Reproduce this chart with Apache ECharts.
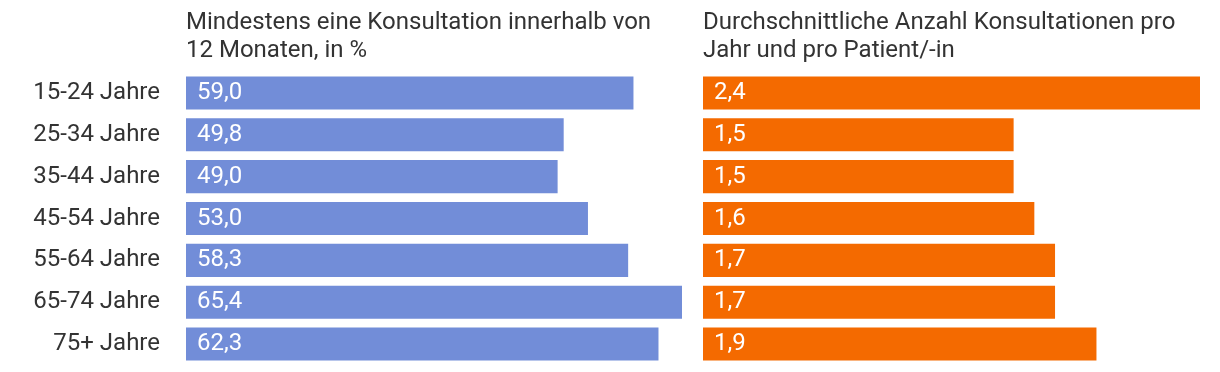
<!DOCTYPE html>
<html><head><meta charset="utf-8">
<script src="https://cdn.jsdelivr.net/npm/echarts@6/dist/echarts.min.js"></script>
<style>html,body{margin:0;padding:0;background:#fff}#c{width:1220px;height:372px}</style>
</head><body><div id="c"></div>
<script>
const categories = ['15-24 Jahre','25-34 Jahre','35-44 Jahre','45-54 Jahre','55-64 Jahre','65-74 Jahre','75+ Jahre'];
const shareValues = [59.0, 49.8, 49.0, 53.0, 58.3, 65.4, 62.3];
const avgValues = [2.4, 1.5, 1.5, 1.6, 1.7, 1.7, 1.9];
const titleLeft = 'Mindestens eine Konsultation innerhalb von\n12 Monaten, in %';
const titleRight = 'Durchschnittliche Anzahl Konsultationen pro\nJahr und pro Patient/-in';

const font = 'Roboto';
const fmt = p => p.value.toFixed(1).replace('.', ',');
const chart = echarts.init(document.getElementById('c'), null, {renderer: 'canvas'});
const labelCfg = {show: true, position: 'insideLeft', distance: 11, color: '#fff', fontSize: 24, fontFamily: font, formatter: fmt};
chart.setOption({
  animation: false,
  title: [
    {text: titleLeft, left: 181, top: 4, textStyle: {fontFamily: font, fontSize: 24, fontWeight: 'normal', color: '#333', lineHeight: 28}},
    {text: titleRight, left: 698, top: 4, textStyle: {fontFamily: font, fontSize: 24, fontWeight: 'normal', color: '#333', lineHeight: 28}}
  ],
  grid: [
    {left: 186, width: 496, top: 72, bottom: 7},
    {left: 703, width: 497, top: 72, bottom: 7}
  ],
  xAxis: [
    {type: 'value', gridIndex: 0, min: 0, max: 'dataMax', show: false},
    {type: 'value', gridIndex: 1, min: 0, max: 'dataMax', show: false}
  ],
  yAxis: [
    {type: 'category', gridIndex: 0, data: categories, inverse: true,
     axisLine: {show: false}, axisTick: {show: false},
     axisLabel: {fontFamily: font, fontSize: 24, color: '#333', margin: 26}},
    {type: 'category', gridIndex: 1, data: categories, inverse: true, show: false}
  ],
  series: [
    {type: 'bar', xAxisIndex: 0, yAxisIndex: 0, data: shareValues, barCategoryGap: '21%',
     itemStyle: {color: '#728dd8'}, label: labelCfg},
    {type: 'bar', xAxisIndex: 1, yAxisIndex: 1, data: avgValues, barCategoryGap: '21%',
     itemStyle: {color: '#f46a00'}, label: labelCfg}
  ]
});
</script></body></html>
